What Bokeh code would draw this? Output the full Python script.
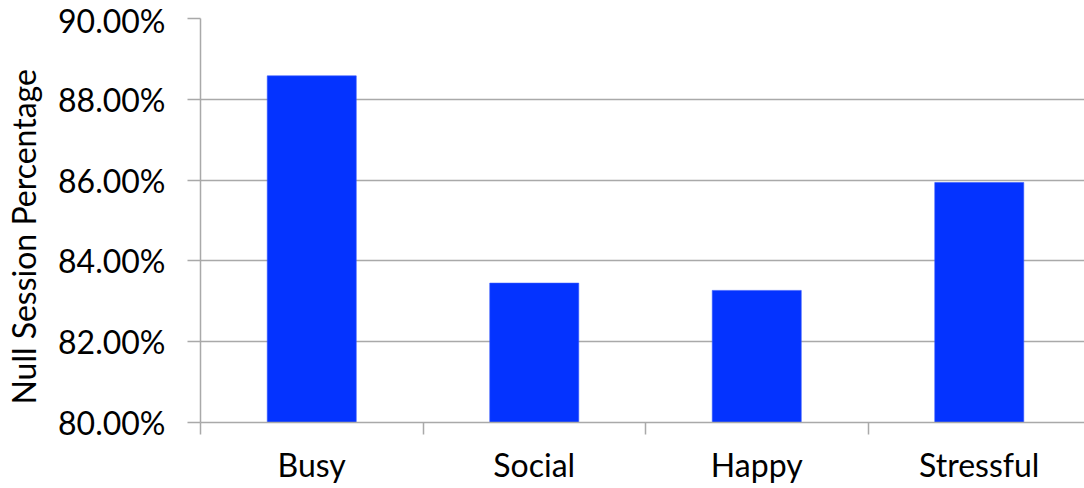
from bokeh.plotting import figure
from bokeh.models import Range1d, FixedTicker, NumeralTickFormatter, ColumnDataSource
from bokeh.embed import file_html
from bokeh.resources import INLINE

# Null-session share per self-reported state
categories = ["Busy", "Social", "Happy", "Stressful"]
null_share = [0.8858, 0.8345, 0.8327, 0.8594]
y_ticks = [0.80, 0.82, 0.84, 0.86, 0.88, 0.90]
y_title = "Null Session Percentage"

FONT = "Lato"
FONT_SIZE = "32px"
GRID = "#A9A9A9"

# categories sit on unit-wide slots: centre of slot i is i + 0.5
centers = [i + 0.5 for i in range(len(categories))]
bounds = list(range(len(categories) + 1))

src = ColumnDataSource(dict(x=centers, top=null_share, cat=categories))

p = figure(
    width=1084, height=488,
    output_backend="svg", toolbar_location=None,
    x_range=Range1d(0, 3.973), y_range=Range1d(0.80, 0.90),
    min_border_left=200, min_border_right=0,
    min_border_top=18, min_border_bottom=66,
)
p.outline_line_color = None
p.background_fill_color = "white"
p.border_fill_color = "white"

p.vbar(x="x", top="top", bottom=0.80, width=0.4, source=src,
       fill_color="#0433FF", line_color="#3355FF", line_width=0.6)

# y axis; non-breaking padding nudges the rotated title slightly downward
p.yaxis.ticker = FixedTicker(ticks=y_ticks)
p.yaxis.formatter = NumeralTickFormatter(format="0.00%")
p.yaxis.axis_label = y_title + "\u00a0" * 4
p.yaxis.axis_label_text_font = FONT
p.yaxis.axis_label_text_font_size = FONT_SIZE
p.yaxis.axis_label_text_font_style = "normal"
p.yaxis.axis_label_text_color = "black"
p.yaxis.axis_label_standoff = 12
p.yaxis.major_label_text_font = FONT
p.yaxis.major_label_text_font_size = FONT_SIZE
p.yaxis.major_label_text_color = "black"
p.yaxis.major_label_standoff = 22
p.yaxis.major_tick_out = 13
p.yaxis.major_tick_in = 0
p.yaxis.minor_tick_line_color = None
p.yaxis.axis_line_color = GRID
p.yaxis.axis_line_width = 1.5
p.yaxis.major_tick_line_color = GRID
p.yaxis.major_tick_line_width = 1.5

# x axis: labels at slot centres, tick marks at slot boundaries
p.xaxis.ticker = FixedTicker(ticks=centers, minor_ticks=bounds)
p.xaxis.major_label_overrides = {c: cat for c, cat in zip(centers, categories)}
p.xaxis.major_label_text_font = FONT
p.xaxis.major_label_text_font_size = FONT_SIZE
p.xaxis.major_label_text_color = "black"
p.xaxis.major_tick_line_color = None
p.xaxis.major_tick_out = 12
p.xaxis.major_tick_in = 0
p.xaxis.major_label_standoff = 10
p.xaxis.minor_tick_out = 12
p.xaxis.minor_tick_in = 0
p.xaxis.minor_tick_line_color = GRID
p.xaxis.minor_tick_line_width = 1.5
p.xaxis.axis_line_color = GRID
p.xaxis.axis_line_width = 1.5

p.xgrid.grid_line_color = None
p.ygrid.ticker = FixedTicker(ticks=y_ticks)
p.ygrid.grid_line_color = GRID
p.ygrid.grid_line_width = 1.5

open("out.html", "w").write(file_html(p, INLINE))
